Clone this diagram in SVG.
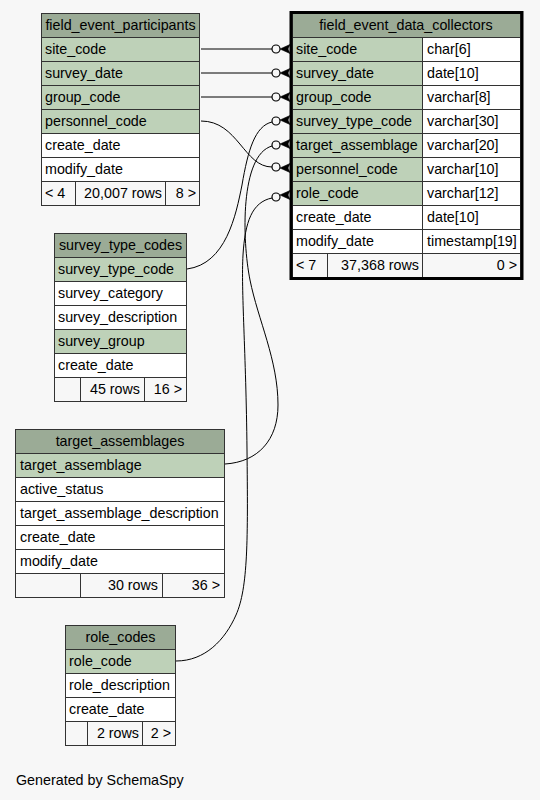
<svg xmlns="http://www.w3.org/2000/svg" width="540" height="800" viewBox="0 0 540 800">
<style>
text{font-family:"Liberation Sans",Arial,sans-serif;font-size:14.3px;fill:#000}
.h{fill:#9bab96;stroke:#333;stroke-width:1}
.k{fill:#bed1b8;stroke:#333;stroke-width:1}
.b{fill:#fff;stroke:#333;stroke-width:1}
.f{fill:#f7f7f7;stroke:#333;stroke-width:1}
.c{text-anchor:middle}
.r{text-anchor:end}
.e{fill:none;stroke:#000;stroke-width:1}
.o{fill:none;stroke:#000;stroke-width:1.2}
.cw{fill:#000;stroke:#000;stroke-width:0.6}
</style>
<rect x="0" y="0" width="540" height="800" fill="#f7f7f7"/>

<g id="field_event_participants">
<rect class="h" x="41.5" y="13.5" width="158" height="24"/>
<text class="c" x="120.5" y="30">field_event_participants</text>
<rect class="k" x="41.5" y="37.5" width="158" height="24"/><text x="45" y="53.5">site_code</text>
<rect class="k" x="41.5" y="61.5" width="158" height="24"/><text x="45" y="77.5">survey_date</text>
<rect class="k" x="41.5" y="85.5" width="158" height="24"/><text x="45" y="101.5">group_code</text>
<rect class="k" x="41.5" y="109.5" width="158" height="24"/><text x="45" y="125.5">personnel_code</text>
<rect class="b" x="41.5" y="133.5" width="158" height="24"/><text x="45" y="149.5">create_date</text>
<rect class="b" x="41.5" y="157.5" width="158" height="24"/><text x="45" y="173.5">modify_date</text>
<rect class="f" x="41.5" y="181.5" width="34" height="24"/><text x="45" y="197.5">&lt; 4</text>
<rect class="f" x="75.5" y="181.5" width="90" height="24"/><text class="r" x="162" y="197.5">20,007 rows</text>
<rect class="f" x="165.5" y="181.5" width="34" height="24"/><text class="r" x="196" y="197.5">8 &gt;</text>
</g>

<g id="field_event_data_collectors">
<rect class="h" x="292.5" y="13.5" width="228" height="24"/>
<text class="c" x="406" y="30">field_event_data_collectors</text>
<rect class="k" x="292.5" y="37.5" width="130" height="24"/><text x="296" y="53.5">site_code</text>
<rect class="b" x="422.5" y="37.5" width="98" height="24"/><text x="427" y="53.5">char[6]</text>
<rect class="k" x="292.5" y="61.5" width="130" height="24"/><text x="296" y="77.5">survey_date</text>
<rect class="b" x="422.5" y="61.5" width="98" height="24"/><text x="427" y="77.5">date[10]</text>
<rect class="k" x="292.5" y="85.5" width="130" height="24"/><text x="296" y="101.5">group_code</text>
<rect class="b" x="422.5" y="85.5" width="98" height="24"/><text x="427" y="101.5">varchar[8]</text>
<rect class="k" x="292.5" y="109.5" width="130" height="24"/><text x="296" y="125.5">survey_type_code</text>
<rect class="b" x="422.5" y="109.5" width="98" height="24"/><text x="427" y="125.5">varchar[30]</text>
<rect class="k" x="292.5" y="133.5" width="130" height="24"/><text x="296" y="149.5">target_assemblage</text>
<rect class="b" x="422.5" y="133.5" width="98" height="24"/><text x="427" y="149.5">varchar[20]</text>
<rect class="k" x="292.5" y="157.5" width="130" height="24"/><text x="296" y="173.5">personnel_code</text>
<rect class="b" x="422.5" y="157.5" width="98" height="24"/><text x="427" y="173.5">varchar[10]</text>
<rect class="k" x="292.5" y="181.5" width="130" height="24"/><text x="296" y="197.5">role_code</text>
<rect class="b" x="422.5" y="181.5" width="98" height="24"/><text x="427" y="197.5">varchar[12]</text>
<rect class="b" x="292.5" y="205.5" width="130" height="24"/><text x="296" y="221.5">create_date</text>
<rect class="b" x="422.5" y="205.5" width="98" height="24"/><text x="427" y="221.5">date[10]</text>
<rect class="b" x="292.5" y="229.5" width="130" height="24"/><text x="296" y="245.5">modify_date</text>
<rect class="b" x="422.5" y="229.5" width="98" height="24"/><text x="427" y="245.5">timestamp[19]</text>
<rect class="f" x="292.5" y="253.5" width="35" height="24"/><text x="296" y="269.5">&lt; 7</text>
<rect class="f" x="327.5" y="253.5" width="95" height="24"/><text class="r" x="419" y="269.5">37,368 rows</text>
<rect class="f" x="422.5" y="253.5" width="98" height="24"/><text class="r" x="517" y="269.5">0 &gt;</text>
<rect x="291" y="12.5" width="231" height="266" fill="none" stroke="#000" stroke-width="3"/>
</g>

<g id="survey_type_codes">
<rect class="h" x="54.5" y="233.5" width="132" height="24"/>
<text class="c" x="120.5" y="250">survey_type_codes</text>
<rect class="k" x="54.5" y="257.5" width="132" height="24"/><text x="58" y="273.5">survey_type_code</text>
<rect class="b" x="54.5" y="281.5" width="132" height="24"/><text x="58" y="297.5">survey_category</text>
<rect class="b" x="54.5" y="305.5" width="132" height="24"/><text x="58" y="321.5">survey_description</text>
<rect class="k" x="54.5" y="329.5" width="132" height="24"/><text x="58" y="345.5">survey_group</text>
<rect class="b" x="54.5" y="353.5" width="132" height="24"/><text x="58" y="369.5">create_date</text>
<rect class="f" x="54.5" y="377.5" width="26" height="24"/>
<rect class="f" x="80.5" y="377.5" width="64" height="24"/><text class="r" x="140" y="393.5">45 rows</text>
<rect class="f" x="144.5" y="377.5" width="42" height="24"/><text class="r" x="182" y="393.5">16 &gt;</text>
</g>

<g id="target_assemblages">
<rect class="h" x="15.5" y="429.5" width="209" height="24"/>
<text class="c" x="120" y="446">target_assemblages</text>
<rect class="k" x="15.5" y="453.5" width="209" height="24"/><text x="20" y="469.5">target_assemblage</text>
<rect class="b" x="15.5" y="477.5" width="209" height="24"/><text x="20" y="493.5">active_status</text>
<rect class="b" x="15.5" y="501.5" width="209" height="24"/><text x="20" y="517.5">target_assemblage_description</text>
<rect class="b" x="15.5" y="525.5" width="209" height="24"/><text x="20" y="541.5">create_date</text>
<rect class="b" x="15.5" y="549.5" width="209" height="24"/><text x="20" y="565.5">modify_date</text>
<rect class="f" x="15.5" y="573.5" width="65" height="24"/>
<rect class="f" x="80.5" y="573.5" width="82" height="24"/><text class="r" x="158" y="589.5">30 rows</text>
<rect class="f" x="162.5" y="573.5" width="62" height="24"/><text class="r" x="220" y="589.5">36 &gt;</text>
</g>

<g id="role_codes">
<rect class="h" x="65.5" y="625.5" width="110" height="24"/>
<text class="c" x="120.5" y="642">role_codes</text>
<rect class="k" x="65.5" y="649.5" width="110" height="24"/><text x="69" y="665.5">role_code</text>
<rect class="b" x="65.5" y="673.5" width="110" height="24"/><text x="69" y="689.5">role_description</text>
<rect class="b" x="65.5" y="697.5" width="110" height="24"/><text x="69" y="713.5">create_date</text>
<rect class="f" x="65.5" y="721.5" width="22" height="24"/>
<rect class="f" x="87.5" y="721.5" width="55" height="24"/><text class="r" x="139" y="737.5">2 rows</text>
<rect class="f" x="142.5" y="721.5" width="33" height="24"/><text class="r" x="171" y="737.5">2 &gt;</text>
</g>

<g id="connectors">
<path class="e" d="M201,49 H272"/>
<path class="e" d="M201,73 H272"/>
<path class="e" d="M201,97 H272"/>
<path class="e" d="M201,121 C238,121 244,167 272,167"/>
<path class="e" d="M187,269 C226,264 236,215 242,185 C248,150 255,126 272,122"/>
<path class="e" d="M225,464 C258,462 278,440 278,405 C278,360 258,320 250,280 C242,240 240,155 272,146"/>
<path class="e" d="M176,661 C205,661 225,640 236,615 C248,588 248,540 247,450 C246,350 241,290 243,255 C245,222 252,202 272,198"/>
<circle class="o" cx="276" cy="49" r="4"/>
<circle class="o" cx="276" cy="73" r="4"/>
<circle class="o" cx="276" cy="97" r="4"/>
<circle class="o" cx="276" cy="121" r="4"/>
<circle class="o" cx="276" cy="145" r="4"/>
<circle class="o" cx="276" cy="167" r="4"/>
<circle class="o" cx="276" cy="197" r="4"/>
<polygon class="cw" points="280,49 290,44.5 288,49 290,53.5"/>
<polygon class="cw" points="280,73 290,68.5 288,73 290,77.5"/>
<polygon class="cw" points="280,97 290,92.5 288,97 290,101.5"/>
<polygon class="cw" points="280,120 290,115.5 288,120 290,124.5"/>
<polygon class="cw" points="280,144 290,139.5 288,144 290,148.5"/>
<polygon class="cw" points="280,168 290,163.5 288,168 290,172.5"/>
<polygon class="cw" points="280,195 290,190.5 288,195 290,199.5"/>
</g>

<text x="16" y="785">Generated by SchemaSpy</text>
</svg>
